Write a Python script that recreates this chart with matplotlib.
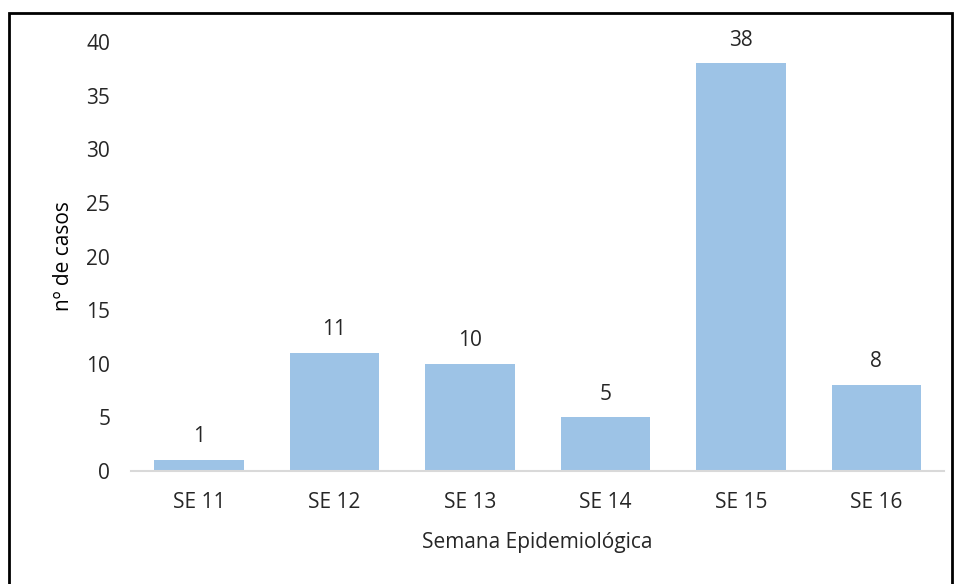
import matplotlib.pyplot as plt
from matplotlib.patches import Rectangle

# data
semanas = ["SE 11", "SE 12", "SE 13", "SE 14", "SE 15", "SE 16"]
casos = [1, 11, 10, 5, 38, 8]

plt.rcParams['font.family'] = ['Open Sans', 'DejaVu Sans']

fig = plt.figure(figsize=(9.6, 5.84), dpi=100)
ax = fig.add_axes([0.1365, 0.1935, 0.847, 0.7345])

x = range(len(semanas))
bars = ax.bar(x, casos, width=0.66, color="#9DC3E6")

# value labels above bars
for xi, v in zip(x, casos):
    ax.text(xi, v + 1.2, str(v), ha="center", va="bottom", fontsize=15, color="#262626")

ax.set_xlim(-0.5, len(semanas) - 0.5)
ax.set_ylim(0, 40)
ax.set_yticks(range(0, 41, 5))
ax.set_xticks(list(x))
ax.set_xticklabels(semanas)
ax.tick_params(axis="both", length=0, labelsize=15, colors="#262626")
ax.tick_params(axis="y", pad=15)
ax.tick_params(axis="x", pad=15)

for s in ["top", "right", "left"]:
    ax.spines[s].set_visible(False)
ax.spines["bottom"].set_color("#D9D9D9")
ax.spines["bottom"].set_linewidth(1.5)

ax.set_ylabel("nº de casos", fontsize=15, color="black", labelpad=9)
ax.set_xlabel("Semana Epidemiológica", fontsize=15, color="#262626", labelpad=14)

# black frame around chart
fig.patches.append(Rectangle((9 / 960, -0.01), 943 / 960, 1 - 13 / 584 + 0.01,
                             transform=fig.transFigure, fill=False,
                             edgecolor="black", linewidth=2))

fig.savefig("out.png", dpi=100)
